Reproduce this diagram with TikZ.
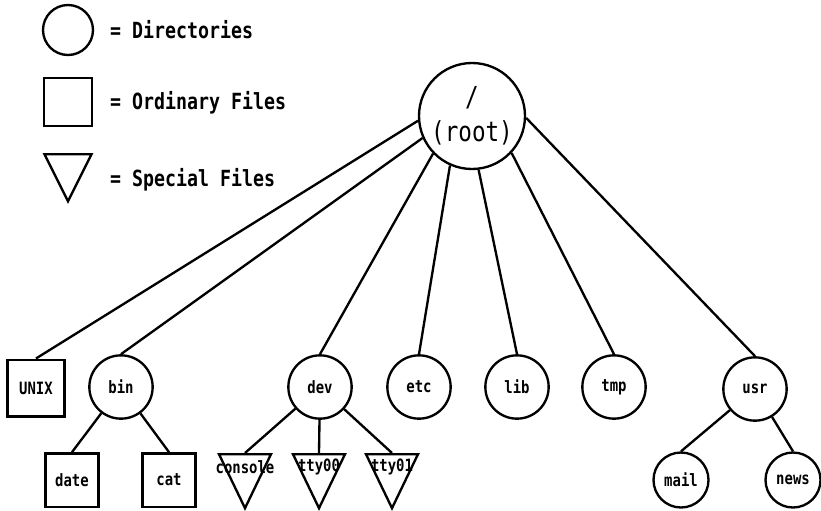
\documentclass[tikz,border=0pt]{standalone}
\usepackage{fontspec}
\newfontfamily\termfont[FakeStretch=0.82]{DejaVu Sans Mono}
\usepackage{tikz}
\usetikzlibrary{shapes.geometric, positioning}
\tikzset{
  dir/.style={
    circle, draw, line width=2pt,
    minimum size=1.9cm, inner sep=0pt,
    font=\termfont\bfseries\fontsize{14.5}{16}\selectfont
  },
  file/.style={
    rectangle, draw, line width=2pt,
    minimum size=1.6cm, inner sep=0pt,
    font=\termfont\bfseries\fontsize{14.5}{16}\selectfont
  },
  special/.style={
    isosceles triangle, isosceles triangle stretches,
    shape border rotate=-90, draw, line width=2pt,
    minimum width=1.56cm, minimum height=1.62cm,
    inner sep=0pt, anchor=north
  },
  speclabel/.style={
    anchor=center, yshift=-0.42cm, inner sep=0pt,
    font=\termfont\bfseries\fontsize{14.5}{16}\selectfont
  },
  legend/.style={
    anchor=west, inner sep=0pt,
    font=\termfont\bfseries\fontsize{19}{22}\selectfont
  },
  link/.style={line width=2pt},
}
\begin{document}
\begin{tikzpicture}[x=0.3mm, y=-0.3mm]
  \useasboundingbox (0,0) rectangle (821,510);

  % key
  \node (keydir)  [dir, minimum size=1.5cm]  at (68,30)  {};
  \node (keyfile) [file, minimum size=1.44cm] at (68,102) {};
  \node (keyspec) [special, minimum width=1.41cm, minimum height=1.41cm] at (68,153) {};
  \node (keydirtxt)  [legend] at (110,30)  {= Directories};
  \node (keyfiletxt) [legend] at (110,103) {= Ordinary Files};
  \node (keyspectxt) [legend] at (110,180) {= Special Files};

  % tree
  \node (root) [dir, minimum size=3.18cm, align=center,
    font=\termfont\fontsize{23.5}{30}\selectfont] at (472,116) {/\\(root)};
  \node (unix) [file, minimum size=1.7cm] at (36,388) {UNIX};
  \node (bin)  [dir] at (121,387) {bin};
  \node (dev)  [dir] at (320,387) {dev};
  \node (etc)  [dir] at (419,387) {etc};
  \node (lib)  [dir] at (517,387) {lib};
  \node (tmp)  [dir] at (614,387) {tmp};
  \node (usr)  [dir] at (755,389) {usr};

  \node (date) [file] at (72,480)  {date};
  \node (cat)  [file] at (169,480) {cat};
  \node (console) [special, label={[speclabel]north:console}] at (245,453) {};
  \node (tty00)   [special, label={[speclabel]north:tty00}]   at (319,453) {};
  \node (tty01)   [special, label={[speclabel]north:tty01}]   at (392,453) {};
  \node (mail) [dir, minimum size=1.65cm] at (681,480) {mail};
  \node (news) [dir, minimum size=1.65cm] at (793,480) {news};

  \draw [link] (root.185) -- (unix.north);
  \draw [link] (root.204) -- (bin.north);
  \draw [link] (root.224) -- (dev.north);
  \draw [link] (root.246) -- (etc.north);
  \draw [link] (root.277) -- (lib.north);
  \draw [link] (root.317) -- (tmp.north);
  \draw [link] (root.358) -- (usr.north);

  \draw [link] (bin) -- (date.north);
  \draw [link] (bin) -- (cat.north);
  \draw [link] (dev) -- (console.north);
  \draw [link] (dev) -- (tty00.north);
  \draw [link] (dev) -- (tty01.north);
  \draw [link] (usr) -- (mail.north);
  \draw [link] (usr) -- (news.north);
\end{tikzpicture}
\end{document}
